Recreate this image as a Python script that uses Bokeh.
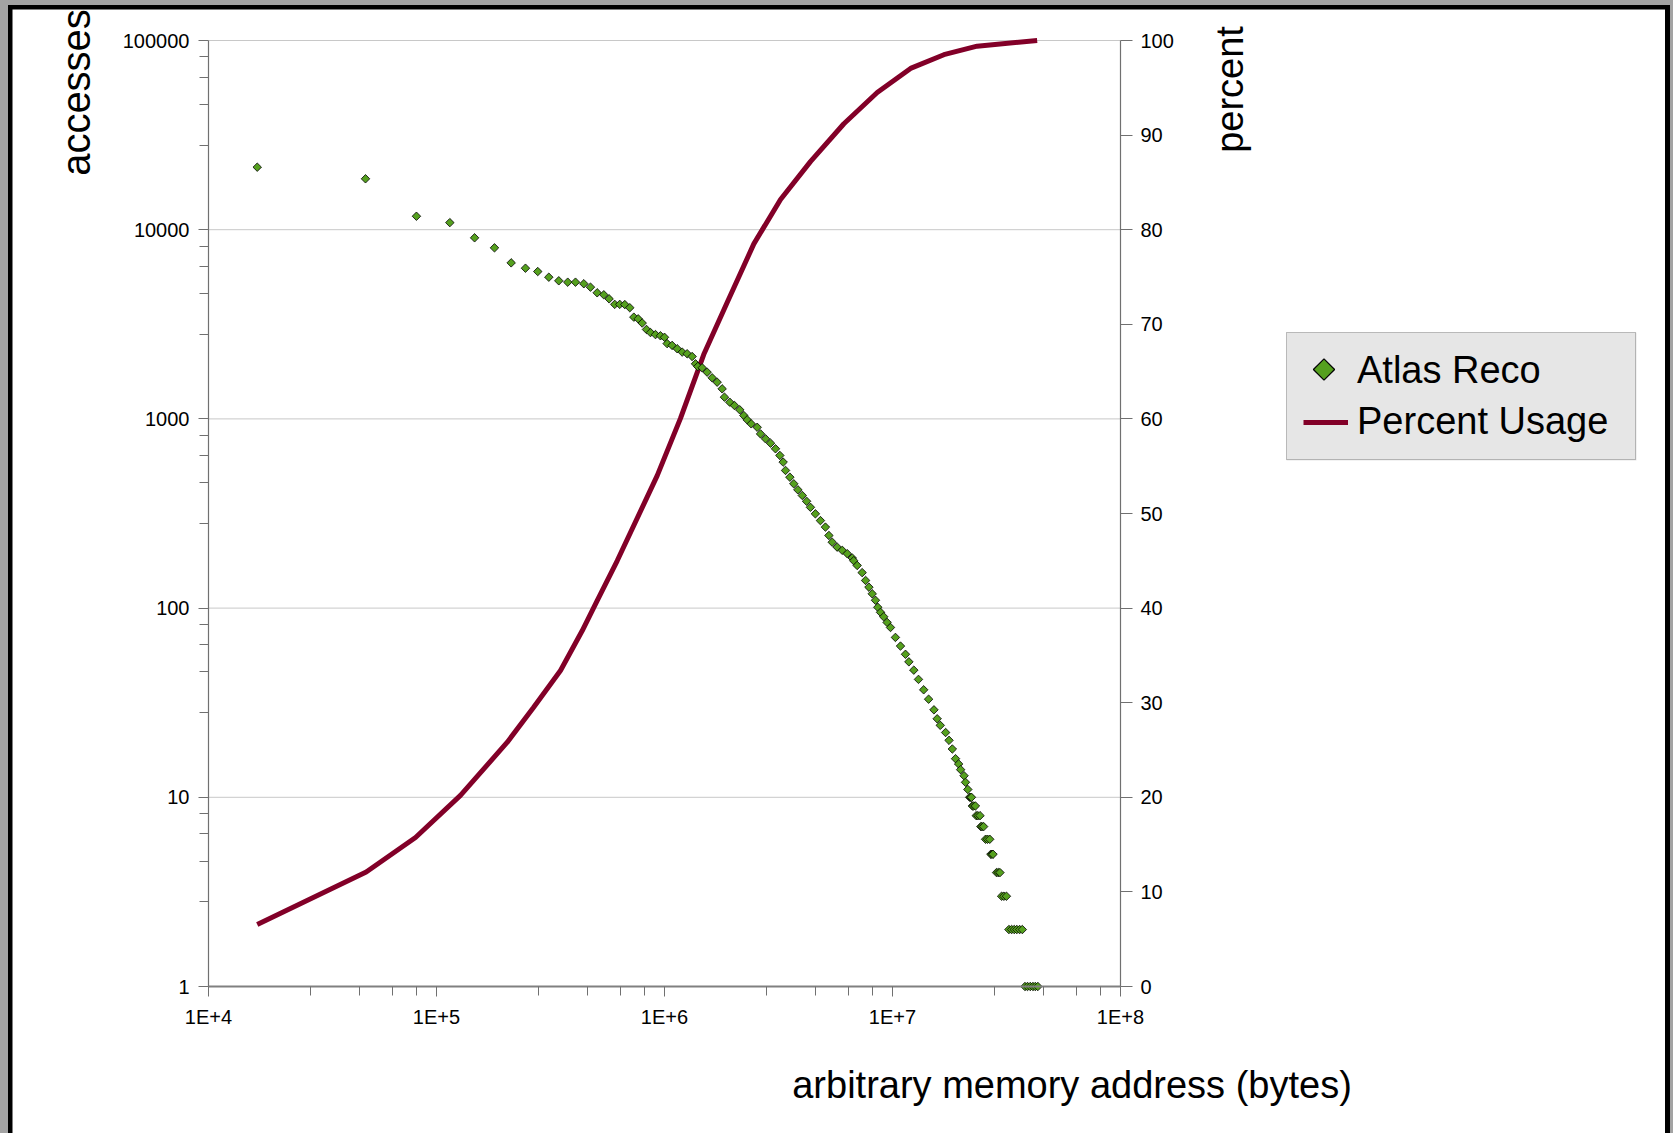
import math
from bokeh.plotting import figure
from bokeh.models import (LinearAxis, LogAxis, Range1d, LinearScale, FixedTicker,
                          CustomJSTickFormatter, Label, Legend, LegendItem, Grid)
from bokeh.layouts import column
from bokeh.embed import file_html
from bokeh.resources import INLINE

FONT = "Liberation Sans"

# ---------------- data ----------------
x_major = [1e4, 1e5, 1e6, 1e7, 1e8]
x_labels = ["1E+4", "1E+5", "1E+6", "1E+7", "1E+8"]
y_major = [1, 10, 100, 1000, 10000, 100000]
pct_ticks = [0, 10, 20, 30, 40, 50, 60, 70, 80, 90, 100]

# Atlas Reco: upper (sparse/continuous) part
head_addr = [16360, 48820, 81660, 114400, 146900, 179600, 212600, 245600, 278000,
             310900, 343800, 376300, 407000, 442800, 473500, 506700, 541700, 571600,
             605000, 636400, 669700, 704300, 733600, 766600, 798400, 833600, 868000,
             913000, 960000, 1000000, 1027000, 1080000, 1137000, 1196000, 1257000,
             1322000, 1368000, 1400000, 1463000, 1538000, 1618000, 1702000, 1790000,
             1832000, 1933000, 2027000, 2138000, 2228000, 2305000, 2400000, 2550000,
             2638000, 2775000, 2918000, 3068000, 3206000, 3315000, 3395000, 3547000,
             3690000, 3845000, 4020000, 4200000, 4366000, 4590000, 4830000, 5080000,
             5260000, 5440000, 5720000, 6020000, 6330000, 6660000, 6760000, 7000000,
             7360000, 7620000, 7880000, 8150000, 8420000, 8620000, 8860000, 9150000,
             9470000, 9800000, 10300000, 10840000, 11400000, 11800000, 12400000,
             13000000, 13700000, 14400000, 15200000, 15700000, 16200000, 17100000,
             17700000, 18300000, 18900000, 19500000, 19900000, 20600000, 20900000,
             21400000]
head_acc = [21400, 18580, 11780, 10900, 9060, 8020, 6680, 6260, 6010,
            5610, 5370, 5280, 5280, 5180, 4970, 4640, 4530, 4310,
            4030, 4030, 4020, 3870, 3450, 3380, 3210, 2970, 2860,
            2790, 2750, 2700, 2500, 2446, 2349, 2254, 2210,
            2137, 1955, 1892, 1862, 1766, 1649, 1563, 1442,
            1303, 1225, 1177, 1117, 1042, 989, 942, 903,
            833, 785, 744, 695, 641, 591, 534, 492,
            454, 422, 394, 367, 341, 315, 290, 268,
            242, 223, 210, 202, 194, 184, 178, 168,
            154, 140, 129, 119, 110, 101, 95, 90,
            84, 79, 70, 63, 57, 52, 47,
            42, 37, 33, 29, 26, 24, 22,
            20, 18, 16, 15, 14, 13, 12,
            11]

# Atlas Reco: tail, clusters at small integer access counts
tail_addr = [21.8e6, 22.0e6, 22.2e6,
             22.4e6, 22.7e6, 23.1e6,
             23.3e6, 23.7e6, 24.2e6,
             24.4e6, 24.7e6, 25.1e6,
             25.6e6, 26.1e6, 26.7e6,
             27.0e6, 27.3e6, 27.6e6,
             28.6e6, 29.1e6, 29.6e6,
             30.1e6, 30.8e6, 31.6e6,
             32.4e6, 33.3e6, 34.2e6, 35.1e6, 36.1e6, 37.1e6,
             38.1e6, 39.1e6, 40.2e6, 41.3e6, 42.3e6, 43.4e6]
tail_acc = [10, 10, 10,
            9, 9, 9,
            8, 8, 8,
            7, 7, 7,
            6, 6, 6,
            5, 5, 5,
            4, 4, 4,
            3, 3, 3,
            2, 2, 2, 2, 2, 2,
            1, 1, 1, 1, 1, 1]

# Percent Usage (cumulative)
usage_addr = [16360, 49170, 80900, 127400, 204000, 266300, 349900, 435500, 506800,
              620200, 929000, 1175000, 1486000, 1883000, 2465000, 3228000, 4366000,
              6120000, 8570000, 12000000, 16800000, 23500000, 43100000]
usage_pct = [6.55, 12.1, 15.75, 20.2, 25.8, 29.5, 33.4, 37.6, 40.8,
             45.0, 54.0, 60.05, 66.8, 72.3, 78.5, 83.2, 87.2,
             91.2, 94.5, 97.05, 98.5, 99.4, 100.0]

addr = head_addr + tail_addr
acc = head_acc + tail_acc

# minor tick positions (Excel style: 5 linear subdivisions of each decade)
x_minor = [d * m for d in x_major[:-1] for m in (2.8, 4.6, 6.4, 8.2)]
y_minor = [d * m for d in y_major[:-1] for m in (2.8, 4.6, 6.4, 8.2)]

# ---------------- layout geometry (page pixels) ----------------
CANVAS_L, CANVAS_T, CANVAS_W, CANVAS_H = 12, 9, 1653, 1124
PLOT_L, PLOT_R, PLOT_T, PLOT_B = 208, 1120, 40, 986      # plotting box of the chart

xdec = (PLOT_R - PLOT_L) / 4.0      # px per decade along x
ydec = (PLOT_B - PLOT_T) / 5.0      # px per decade along y
ppct = (PLOT_B - PLOT_T) / 100.0    # px per percent

def xval(px):
    return 10 ** (4 + (px - PLOT_L) / xdec)

def yval(py):
    return 10 ** ((PLOT_B - py) / ydec)

def pval(py):
    return (PLOT_B - py) / ppct

x_rng = Range1d(xval(CANVAS_L), xval(CANVAS_L + CANVAS_W))
y_rng = Range1d(yval(CANVAS_T + CANVAS_H), yval(CANVAS_T))
p_rng = Range1d(pval(CANVAS_T + CANVAS_H), pval(CANVAS_T))

p = figure(width=CANVAS_W, height=CANVAS_H, x_axis_type="log", y_axis_type="log",
           x_range=x_rng, y_range=y_rng,
           x_axis_location=None, y_axis_location=None,
           output_backend="svg", toolbar_location=None,
           min_border=0, min_border_left=0, min_border_right=0,
           min_border_top=0, min_border_bottom=0,
           background_fill_color="white", border_fill_color="white",
           outline_line_color=None)
p.center = [r for r in p.center if not isinstance(r, Grid)]
p.extra_y_ranges = {"pct": p_rng}
p.extra_y_scales = {"pct": LinearScale()}

AX = "#707070"

# horizontal gridlines at the accesses decades, spanning the chart box
p.segment(x0=[x_major[0]] * len(y_major), x1=[x_major[-1]] * len(y_major),
          y0=y_major, y1=y_major, line_color="#c8c8c8", line_width=1, level="underlay")

xa = LogAxis(fixed_location=y_major[0], bounds=(x_major[0], x_major[-1]),
             ticker=FixedTicker(ticks=x_major, minor_ticks=x_minor),
             formatter=CustomJSTickFormatter(
                 args=dict(labs=x_labels),
                 code="return labs[Math.round(Math.log10(tick)) - 4];"))
ya = LogAxis(fixed_location=x_major[0], bounds=(y_major[0], y_major[-1]),
             ticker=FixedTicker(ticks=y_major, minor_ticks=y_minor),
             formatter=CustomJSTickFormatter(code="return Math.round(tick).toString();"))
ra = LinearAxis(y_range_name="pct", fixed_location=x_major[-1],
                bounds=(pct_ticks[0], pct_ticks[-1]),
                ticker=FixedTicker(ticks=pct_ticks))

for ax in (xa, ya, ra):
    ax.axis_line_color = AX
    ax.axis_line_width = 1.2
    ax.major_tick_line_color = AX
    ax.minor_tick_line_color = AX
    ax.major_tick_in = 0
    ax.major_tick_out = 10
    ax.minor_tick_in = 0
    ax.minor_tick_out = 9
    ax.major_label_text_font = FONT
    ax.major_label_text_font_size = "20px"
    ax.major_label_text_color = "black"
    ax.major_label_standoff = 9
ra.minor_tick_line_color = None
ra.major_tick_out = 12
ra.major_label_standoff = 8
xa.axis_line_width = 2
xa.axis_line_color = "#808080"

p.add_layout(xa, "below")
p.add_layout(ya, "left")
p.add_layout(ra, "right")

GREEN = "#55a01e"
ln = p.line(usage_addr, usage_pct, y_range_name="pct", line_color="#820028",
            line_width=5)
sc = p.scatter(addr, acc, marker="square", angle=math.pi / 4, size=6,
               fill_color=GREEN, line_color="black", line_width=0.8)

def sx(px):
    return px - CANVAS_L

def sy(py):
    return CANVAS_T + CANVAS_H - py

# ---------------- legend ----------------
# legend box geometry (page px)
LEG_L, LEG_R, LEG_T, LEG_B = 1286, 1636, 332, 460
LEG_PAD, GLYPH_W, ITEM_GAP = 16, 45, 8
KEY_X, KEY_Y = LEG_L + LEG_PAD + GLYPH_W / 2 - 1, 369

# legend panel fill (drawn below the key symbol; the Legend draws text + border)
p.quad(left=[xval(LEG_L)], right=[xval(LEG_R)], top=[yval(LEG_T)], bottom=[yval(LEG_B)],
       fill_color="#e6e6e6", line_color=None, level="underlay")
# key symbol: Excel-like diamond (rotated square), which Bokeh's legend cannot rotate
p.scatter(x=[xval(KEY_X)], y=[yval(KEY_Y)], marker="square", angle=math.pi / 4,
          size=15, fill_color=GREEN, line_color="black", line_width=1.2)
# invisible proxy that only reserves the legend slot for "Atlas Reco"
proxy = p.scatter(x=[xval(KEY_X)], y=[yval(KEY_Y)], marker="square", size=1,
                  fill_alpha=0, line_alpha=0)

legend = Legend(items=[LegendItem(label="Atlas Reco", renderers=[proxy]),
                       LegendItem(label="Percent Usage", renderers=[ln])],
                location=(sx(LEG_L), sy(LEG_B)), orientation="vertical",
                label_text_font=FONT, label_text_font_size="38px",
                label_text_color="black",
                glyph_width=GLYPH_W, glyph_height=40, label_height=40,
                label_width=262, label_standoff=9, spacing=ITEM_GAP, padding=LEG_PAD,
                margin=0, background_fill_alpha=0,
                border_line_color="#7f7f7f", border_line_width=1.5)
p.add_layout(legend)

# ---------------- axis titles ----------------
lab_kw = dict(x_units="screen", y_units="screen", text_font=FONT,
              text_color="black", text_align="center", text_baseline="middle")
p.add_layout(Label(x=sx(75), y=sy(92), text="accesses", angle=math.pi / 2,
                   text_font_size="40px", **lab_kw))
p.add_layout(Label(x=sx(1229), y=sy(89), text="percent", angle=math.pi / 2,
                   text_font_size="38px", **lab_kw))
p.add_layout(Label(x=sx(1071.5), y=sy(1084), text="arbitrary memory address (bytes)",
                   text_font_size="38px", **lab_kw))

inner = column(p, styles={"background-color": "black", "padding": "4px 5px 0px 4px"})
outer = column(inner, styles={"background-color": "#a3a3a3",
                              "padding": "5px 3px 0px 8px"})

open("out.html", "w").write(file_html(outer, INLINE))
